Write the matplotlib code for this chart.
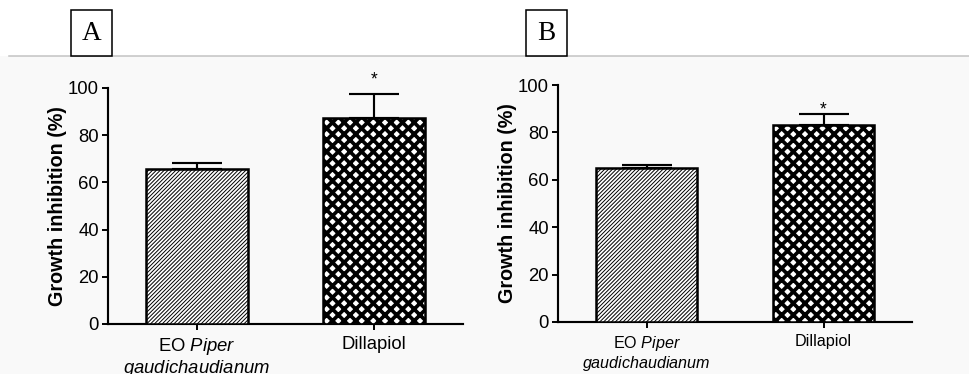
import matplotlib
matplotlib.use("Agg")
import matplotlib.pyplot as plt
from matplotlib.patches import Rectangle
from matplotlib.lines import Line2D

plt.rcParams["font.family"] = ["Liberation Sans", "DejaVu Sans"]
plt.rcParams["mathtext.fontset"] = "custom"
plt.rcParams["mathtext.rm"] = "Liberation Sans"
plt.rcParams["mathtext.it"] = "Liberation Sans:italic"

# ---- data -------------------------------------------------------------
categories = ["EO $\\mathit{Piper}$\n$\\mathit{gaudichaudianum}$", "Dillapiol"]
panel_labels = ["A", "B"]
inhibition_a = [65.5, 87.5]
error_a = [2.6, 10.0]
inhibition_b = [65.0, 83.2]
error_b = [1.4, 4.5]
significant = [False, True]
y_ticks = [0, 20, 40, 60, 80, 100]
y_label = "Growth inhibition (%)"

# ---- figure -----------------------------------------------------------
W, H, DPI = 969, 374, 140
fig = plt.figure(figsize=(W / DPI, H / DPI), dpi=DPI, facecolor="white")


def fx(x):
    return x / W


def fy(y):
    return 1 - y / H


# light panel background with a grey rule above it
fig.add_artist(Rectangle((0, 0), 1, fy(56), transform=fig.transFigure,
                         facecolor="#f9f9f9", edgecolor="none", zorder=0))
fig.add_artist(Line2D([fx(9), 1], [fy(56), fy(56)], transform=fig.transFigure,
                      color="#c4c4c4", lw=0.8, zorder=1))

hatches = ["////////////", "xxxx"]
hatch_lw = [0.5, 1.9]


def draw_panel(rect, values, errors, label_box, tick_fs, label_fs, star_offsets):
    left, top, right, bottom = rect
    ax = fig.add_axes([fx(left), fy(bottom), fx(right - left), (bottom - top) / H])
    ax.set_facecolor("none")
    x = list(range(len(values)))
    for i in x:
        with plt.rc_context({"hatch.linewidth": hatch_lw[i]}):
            bars = ax.bar(i, values[i], width=0.575, facecolor="white",
                          edgecolor="black", linewidth=1.3, hatch=hatches[i], zorder=3)
            for b in bars:
                if hasattr(b, "set_hatch_linewidth"):
                    b.set_hatch_linewidth(hatch_lw[i])
        ax.errorbar(i, values[i], yerr=[[0], [errors[i]]], fmt="none",
                    ecolor="black", elinewidth=1.1, capsize=13, capthick=1.1, zorder=2)
        if significant[i]:
            ax.annotate("*", xy=(i, values[i] + errors[i]), xytext=(0, star_offsets[i]),
                        textcoords="offset points", ha="center", va="center",
                        fontsize=9, annotation_clip=False)
    ax.set_xlim(-0.5, 1.5)
    ax.set_ylim(0, 100)
    ax.set_yticks(y_ticks)
    ax.set_xticks(x)
    ax.set_xticklabels(categories, fontsize=tick_fs, linespacing=1.1)
    ax.tick_params(axis="y", labelsize=9.5, length=3.2, width=1.0, pad=1.5)
    ax.tick_params(axis="x", length=3.0, width=1.0, pad=3)
    for s in ("top", "right"):
        ax.spines[s].set_visible(False)
    for s in ("left", "bottom"):
        ax.spines[s].set_linewidth(1.1)
    ax.set_ylabel(y_label, fontsize=label_fs, fontweight="bold", labelpad=0.6)

    # boxed panel letter
    bx0, by0, bx1, by1, letter = label_box
    fig.add_artist(Rectangle((fx(bx0), fy(by1)), fx(bx1 - bx0), (by1 - by0) / H,
                             transform=fig.transFigure, facecolor="white",
                             edgecolor="black", lw=0.8, zorder=2))
    fig.text(fx((bx0 + bx1) / 2), fy((by0 + by1) / 2 + 1), letter,
             family="Liberation Serif", fontsize=14, ha="center", va="center", zorder=3)
    return ax


draw_panel((108, 88, 463, 324), inhibition_a, error_a,
           (71, 10, 112, 56, panel_labels[0]), 9.5, 10.2, [0, 7.0])
draw_panel((558, 85, 912, 322), inhibition_b, error_b,
           (526, 10, 567, 56, panel_labels[1]), 8.3, 10.2, [0, 2.0])

fig.savefig("out.png", dpi=DPI, facecolor="white")
